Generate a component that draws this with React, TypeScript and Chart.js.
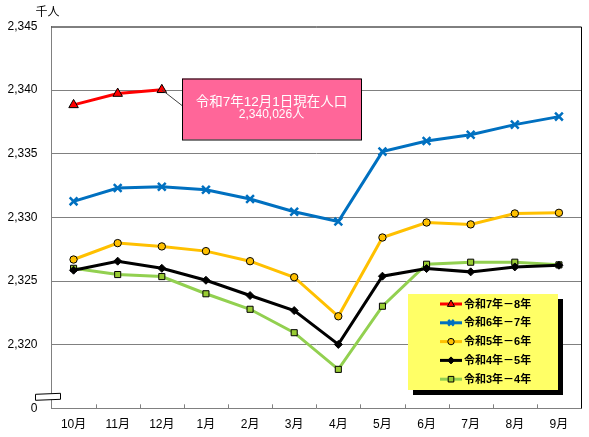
import { useEffect, useRef } from "react";
import { Chart, registerables } from "chart.js";

Chart.register(...registerables);

const categories = ["10月", "11月", "12月", "1月", "2月", "3月", "4月", "5月", "6月", "7月", "8月", "9月"];
const seriesLabels = ["令和7年－8年", "令和6年－7年", "令和5年－6年", "令和4年－5年", "令和3年－4年"];
const r7to8 = [2338.84, 2339.73, 2340.026, null, null, null, null, null, null, null, null, null];
const r6to7 = [2331.26, 2332.31, 2332.41, 2332.17, 2331.44, 2330.44, 2329.68, 2335.17, 2336.0, 2336.5, 2337.29, 2337.92];
const r5to6 = [2326.69, 2327.98, 2327.72, 2327.35, 2326.56, 2325.3, 2322.23, 2328.42, 2329.6, 2329.45, 2330.31, 2330.36];
const r4to5 = [2325.85, 2326.56, 2326.0, 2325.06, 2323.86, 2322.68, 2320.02, 2325.38, 2325.98, 2325.72, 2326.11, 2326.24];
const r3to4 = [2326.0, 2325.51, 2325.35, 2324.0, 2322.78, 2320.94, 2318.06, 2323.02, 2326.32, 2326.48, 2326.48, 2326.27];
const yMin = 2315;
const yMax = 2345;
const yStep = 5;
const unitLabel = "千人";
const calloutLines = ["令和7年12月1日現在人口", "2,340,026人"];

const FONT = "'Liberation Sans', Arial, 'Noto Sans CJK JP', sans-serif";

const decorPlugin = {
  id: "decor",
  afterDraw(chart: any) {
    const ctx = chart.ctx as CanvasRenderingContext2D;
    const area = chart.chartArea;
    const xs = chart.scales.x;
    ctx.save();

    // top and right frame
    ctx.strokeStyle = "#000";
    ctx.lineWidth = 1;
    ctx.beginPath();
    ctx.moveTo(area.left, area.top + 0.5);
    ctx.lineTo(area.right + 0.5, area.top + 0.5);
    ctx.lineTo(area.right + 0.5, area.bottom);
    ctx.stroke();

    // inner ticks on category axis
    const n = categories.length;
    ctx.strokeStyle = "#808080";
    ctx.beginPath();
    for (let i = 1; i < n; i++) {
      const x = Math.round(xs.left + (i * xs.width) / n) + 0.5;
      ctx.moveTo(x, area.bottom);
      ctx.lineTo(x, area.bottom - 4);
    }
    ctx.stroke();

    // axis break marker
    const ax = area.left;
    const by = area.bottom - 12;
    ctx.fillStyle = "#fff";
    ctx.strokeStyle = "#000";
    ctx.beginPath();
    ctx.moveTo(ax - 16, by - 2);
    ctx.lineTo(ax + 9, by - 3);
    ctx.lineTo(ax + 9, by + 3);
    ctx.lineTo(ax - 16, by + 4);
    ctx.closePath();
    ctx.fill();
    ctx.stroke();

    // unit label
    ctx.fillStyle = "#000";
    ctx.font = `12px ${FONT}`;
    ctx.textAlign = "center";
    ctx.textBaseline = "middle";
    ctx.fillText(unitLabel, area.left - 4, 13);

    // callout
    const pt = chart.getDatasetMeta(0).data[2];
    const bx = 182, btop = 78.5, bw = 179, bh = 61;
    ctx.strokeStyle = "#404040";
    ctx.lineWidth = 1;
    ctx.beginPath();
    ctx.moveTo(pt.x, pt.y);
    ctx.lineTo(bx, btop + 27);
    ctx.stroke();
    ctx.fillStyle = "#FF6699";
    ctx.fillRect(bx, btop, bw, bh);
    ctx.strokeStyle = "#000";
    ctx.strokeRect(bx + 0.5, btop + 0.5, bw, bh);
    ctx.fillStyle = "#fff";
    ctx.font = `13.5px ${FONT}`;
    ctx.fillText(calloutLines[0], bx + bw / 2, 102);
    ctx.font = `12px ${FONT}`;
    ctx.fillText(calloutLines[1], bx + bw / 2, 115);

    // legend
    const lx = 408, ly = 294, lw = 150, lh = 96;
    ctx.fillStyle = "#000";
    ctx.fillRect(lx + 5, ly + 5, lw, lh);
    ctx.fillStyle = "#FFFF66";
    ctx.fillRect(lx, ly, lw, lh);
    chart.data.datasets.forEach((ds: any, i: number) => {
      const y = 304 + i * 18.8;
      ctx.strokeStyle = ds.borderColor;
      ctx.lineWidth = 3;
      ctx.beginPath();
      ctx.moveTo(440, y);
      ctx.lineTo(462, y);
      ctx.stroke();
      const style = ds.pointStyle;
      const r = 4;
      ctx.lineWidth = ds.pointBorderWidth;
      ctx.fillStyle = ds.pointBackgroundColor;
      ctx.strokeStyle = ds.pointBorderColor;
      const cx = 451;
      ctx.beginPath();
      if (style === "triangle") {
        ctx.moveTo(cx, y - r);
        ctx.lineTo(cx + r * 0.9, y + r * 0.6);
        ctx.lineTo(cx - r * 0.9, y + r * 0.6);
        ctx.closePath();
        ctx.fill();
        ctx.stroke();
      } else if (style === "crossRot") {
        const d = r * 0.7;
        ctx.moveTo(cx - d, y - d);
        ctx.lineTo(cx + d, y + d);
        ctx.moveTo(cx + d, y - d);
        ctx.lineTo(cx - d, y + d);
        ctx.stroke();
      } else if (style === "circle") {
        ctx.arc(cx, y, r - 0.8, 0, Math.PI * 2);
        ctx.fill();
        ctx.stroke();
      } else if (style === "rectRot") {
        ctx.moveTo(cx, y - r + 0.5);
        ctx.lineTo(cx + r - 0.5, y);
        ctx.lineTo(cx, y + r - 0.5);
        ctx.lineTo(cx - r + 0.5, y);
        ctx.closePath();
        ctx.fill();
        ctx.stroke();
      } else {
        const s = r * 1.4;
        ctx.rect(cx - s / 2, y - s / 2, s, s);
        ctx.fill();
        ctx.stroke();
      }
      ctx.fillStyle = "#000";
      ctx.font = `bold 11px ${FONT}`;
      ctx.textAlign = "left";
      ctx.textBaseline = "middle";
      ctx.fillText(ds.label, 464, y + 0.5);
    });

    ctx.restore();
  },
};

export default function App() {
  const ref = useRef<HTMLCanvasElement>(null);

  useEffect(() => {
    if (!ref.current) return;
    const mk = (
      label: string,
      data: (number | null)[],
      color: string,
      style: string,
      bg: string,
      border: string,
      radius: number,
      bw: number
    ) => ({
      label,
      data,
      borderColor: color,
      borderWidth: 3,
      pointStyle: style,
      pointBackgroundColor: bg,
      pointBorderColor: border,
      pointBorderWidth: bw,
      pointRadius: radius,
      pointHoverRadius: radius,
      tension: 0,
      spanGaps: false,
      fill: false,
    });
    const chart = new Chart(ref.current, {
      type: "line",
      data: {
        labels: categories,
        datasets: [
          mk(seriesLabels[0], r7to8, "#FF0000", "triangle", "#FF0000", "#000000", 5.5, 1),
          mk(seriesLabels[1], r6to7, "#0070C0", "crossRot", "#0070C0", "#0070C0", 5.5, 2.5),
          mk(seriesLabels[2], r5to6, "#FFC000", "circle", "#FFC000", "#000000", 3.7, 1),
          mk(seriesLabels[3], r4to5, "#000000", "rectRot", "#000000", "#000000", 4, 1),
          mk(seriesLabels[4], r3to4, "#92D050", "rect", "#99CC33", "#000000", 4.3, 1),
        ] as any,
      },
      options: {
        responsive: false,
        animation: false,
        layout: { padding: { top: 26.5, right: 7, left: 0, bottom: 0 } },
        plugins: {
          legend: { display: false },
          tooltip: { enabled: false },
          title: { display: false },
        },
        scales: {
          x: {
            offset: true,
            grid: { display: false, drawTicks: false },
            border: { display: true, color: "#808080", width: 1 },
            ticks: { color: "#000", font: { family: FONT, size: 12 }, padding: 9, maxRotation: 0 },
            afterFit: (s: any) => {
              s.height = 28.7;
            },
          },
          y: {
            min: yMin,
            max: yMax,
            ticks: {
              stepSize: yStep,
              color: "#000",
              font: { family: FONT, size: 12 },
              padding: 14,
              callback: (v: any) => (Number(v) === yMin ? "0" : Number(v).toLocaleString("en-US")),
            },
            grid: {
              drawTicks: false,
              color: (c: any) => {
                const v = c.tick?.value;
                if (v === yMin || v === yMax) return "rgba(0,0,0,0)";
                return "#808080";
              },
            },
            border: { display: true, color: "#808080", width: 1 },
            afterFit: (s: any) => {
              s.width = 51.5;
            },
          },
        },
      } as any,
      plugins: [decorPlugin],
    });
    return () => chart.destroy();
  }, []);

  return (
    <div style={{ position: "fixed", left: 0, top: 0, width: 589, height: 437, background: "#fff" }}>
      <canvas ref={ref} width={589} height={437} style={{ display: "block" }} />
    </div>
  );
}
